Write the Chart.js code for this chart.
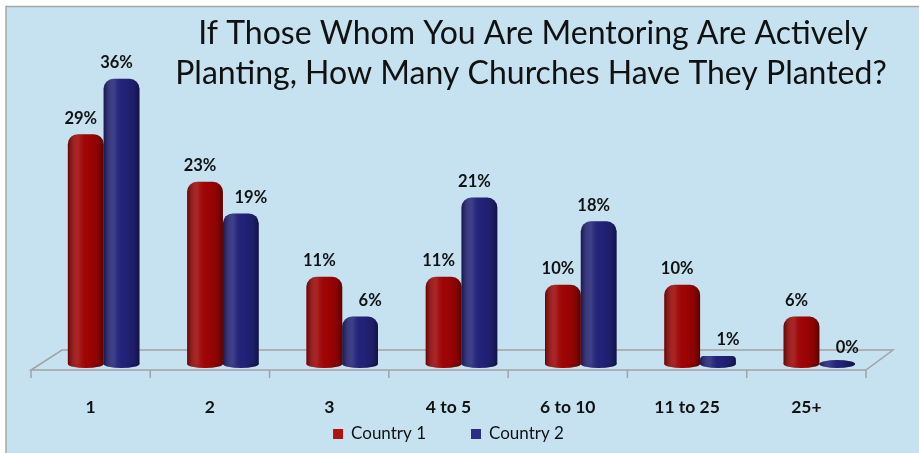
<!DOCTYPE html>
<html>
<head>
<meta charset="utf-8">
<script src="https://cdn.jsdelivr.net/npm/chart.js@4.4.0/dist/chart.umd.min.js"></script>
<style>
  html, body { margin: 0; padding: 0; background: #fff; }
  canvas { display: block; }
</style>
</head>
<body>
<canvas id="chart" width="919" height="453"></canvas>
<script>
const categories = ["1", "2", "3", "4 to 5", "6 to 10", "11 to 25", "25+"];
const country1 = [29, 23, 11, 11, 10, 10, 6];
const country2 = [36, 19, 6, 21, 18, 1, 0];
const seriesNames = ["Country 1", "Country 2"];
const titleLines = [
  "If Those Whom You Are Mentoring Are Actively",
  "Planting, How Many Churches Have They Planted?",
];

const barColors = ["#a00404", "#22227a"];
const legendColors = ["#b01212", "#2c2c86"];
const bgColor = "#c6e2f1";
const fontFamily = "Lato, 'Open Sans', sans-serif";

// the 3D floor sits a bit in front of the bars, labels follow the front edge
const depthShift = 13;

// BACKGROUND + FRAME
const backgroundPlugin = {
  id: "background",
  beforeDraw(chart) {
    const c = chart.ctx;
    c.save();
    c.fillStyle = "#ffffff";
    c.fillRect(0, 0, chart.width, chart.height);
    c.fillStyle = bgColor;
    c.fillRect(6, 6, chart.width - 6, chart.height - 6);
    c.strokeStyle = "#a8a8a8";
    c.lineWidth = 1.5;
    c.beginPath();
    c.moveTo(6, chart.height);
    c.lineTo(6, 6.5);
    c.lineTo(chart.width, 6.5);
    c.stroke();
    c.restore();
  },
};

// FLOOR + CYLINDER BOTTOMS
const floorPlugin = {
  id: "floor",
  beforeDatasetsDraw(chart) {
    const c = chart.ctx;
    const x = chart.scales.x;
    const y0 = chart.scales.y.getPixelForValue(0);
    const frontY = y0 + 6;
    const backY = y0 - 14;
    const frontL = x.left - depthShift;
    const frontR = x.right - depthShift;
    const backL = x.left + 18;
    const backR = x.right + 14;

    c.save();
    c.strokeStyle = "#a3a3a3";
    c.lineWidth = 1.5;
    c.beginPath();
    c.moveTo(frontL, frontY);
    c.lineTo(backL, backY);
    c.lineTo(backR, backY);
    c.lineTo(frontR, frontY);
    c.closePath();
    c.stroke();

    const step = (frontR - frontL) / categories.length;
    c.beginPath();
    for (let k = 0; k <= categories.length; k++) {
      const tx = frontL + k * step;
      c.moveTo(tx, frontY);
      c.lineTo(tx, frontY + 8);
    }
    c.stroke();

    chart.data.datasets.forEach((ds, di) => {
      chart.getDatasetMeta(di).data.forEach((bar) => {
        const p = bar.getProps(["x", "base", "width"], true);
        c.fillStyle = barColors[di];
        c.beginPath();
        c.ellipse(p.x, p.base, p.width / 2, 4, 0, 0, Math.PI * 2);
        c.fill();
        const g = c.createLinearGradient(p.x - p.width / 2, 0, p.x + p.width / 2, 0);
        g.addColorStop(0, "rgba(0,0,0,0.35)");
        g.addColorStop(0.3, "rgba(255,255,255,0.1)");
        g.addColorStop(0.6, "rgba(0,0,0,0)");
        g.addColorStop(1, "rgba(0,0,0,0.45)");
        c.fillStyle = g;
        c.fill();
      });
    });
    c.restore();
  },
};

// SHADING + VALUE LABELS
const cylinderPlugin = {
  id: "cylinder",
  afterDatasetsDraw(chart) {
    const c = chart.ctx;
    c.save();
    chart.data.datasets.forEach((ds, di) => {
      chart.getDatasetMeta(di).data.forEach((bar, i) => {
        const p = bar.getProps(["x", "y", "base", "width"], true);
        const h = p.base - p.y;
        const left = p.x - p.width / 2;
        if (h > 0) {
          const r = Math.min(10, p.width / 2, h / 2);
          const g = c.createLinearGradient(left, 0, left + p.width, 0);
          g.addColorStop(0, "rgba(0,0,0,0.35)");
          g.addColorStop(0.3, "rgba(255,255,255,0.12)");
          g.addColorStop(0.55, "rgba(0,0,0,0)");
          g.addColorStop(0.85, "rgba(0,0,0,0.15)");
          g.addColorStop(1, "rgba(0,0,0,0.45)");
          c.fillStyle = g;
          c.beginPath();
          c.roundRect(left, p.y, p.width, h, [r, r, 0, 0]);
          c.fill();
        }

        // labels of the back series slide right when the front bar is taller
        let dx = -5;
        if (di === 1 && country1[i] > country2[i]) dx = 10;
        c.fillStyle = "#111";
        c.font = "bold 16.5px " + fontFamily;
        c.textAlign = "center";
        c.textBaseline = "middle";
        c.fillText(ds.data[i] + "%", p.x + dx, p.y - 16);
      });
    });
    c.restore();
  },
};

// TITLE + LEGEND
const textPlugin = {
  id: "texts",
  afterDraw(chart) {
    const c = chart.ctx;
    c.save();
    c.fillStyle = "#111";
    c.textAlign = "center";
    c.textBaseline = "alphabetic";
    c.font = "30px " + fontFamily;
    let size = (30 * 677) / c.measureText(titleLines[0]).width;
    size = Math.min(size, 32);
    c.font = size + "px " + fontFamily;
    c.fillText(titleLines[0], 533, 44);
    c.fillText(titleLines[1], 531, 84);

    const x = chart.scales.x;
    const centerX = (x.left + x.right) / 2 - depthShift;
    const legendY = 434;
    c.font = "17px " + fontFamily;
    const box = 10;
    const gap = 8;
    const itemGap = 45;
    const widths = seriesNames.map((n) => box + gap + c.measureText(n).width);
    const total = widths[0] + itemGap + widths[1];
    let lx = centerX - total / 2;
    c.textAlign = "left";
    c.textBaseline = "middle";
    seriesNames.forEach((name, i) => {
      c.fillStyle = legendColors[i];
      c.fillRect(lx, legendY - box / 2, box, box);
      c.fillStyle = "#111";
      c.fillText(name, lx + box + gap, legendY);
      lx += widths[i] + itemGap;
    });
    c.restore();
  },
};

const ctx = document.getElementById("chart");

const chart = new Chart(ctx, {
  type: "bar",
  data: {
    labels: categories,
    datasets: [
      {
        label: seriesNames[0],
        data: country1,
        backgroundColor: barColors[0],
        borderRadius: { topLeft: 10, topRight: 10 },
        borderSkipped: "bottom",
      },
      {
        label: seriesNames[1],
        data: country2,
        backgroundColor: barColors[1],
        borderRadius: { topLeft: 10, topRight: 10 },
        borderSkipped: "bottom",
      },
    ],
  },
  options: {
    responsive: false,
    animation: false,
    devicePixelRatio: 1,
    categoryPercentage: 0.6,
    barPercentage: 1,
    layout: {
      padding: { top: 47, left: 44, right: 40, bottom: 2 },
    },
    scales: {
      x: {
        grid: { display: false, drawTicks: false },
        border: { display: false },
        ticks: {
          padding: 33,
          labelOffset: -depthShift,
          color: "#111",
          maxRotation: 0,
          autoSkip: false,
          font: { family: fontFamily, size: 17.5, weight: "bold" },
        },
      },
      y: {
        display: false,
        min: 0,
        max: 40,
      },
    },
    plugins: {
      legend: { display: false },
      tooltip: { enabled: false },
    },
  },
  plugins: [backgroundPlugin, floorPlugin, cylinderPlugin, textPlugin],
});
</script>
</body>
</html>
